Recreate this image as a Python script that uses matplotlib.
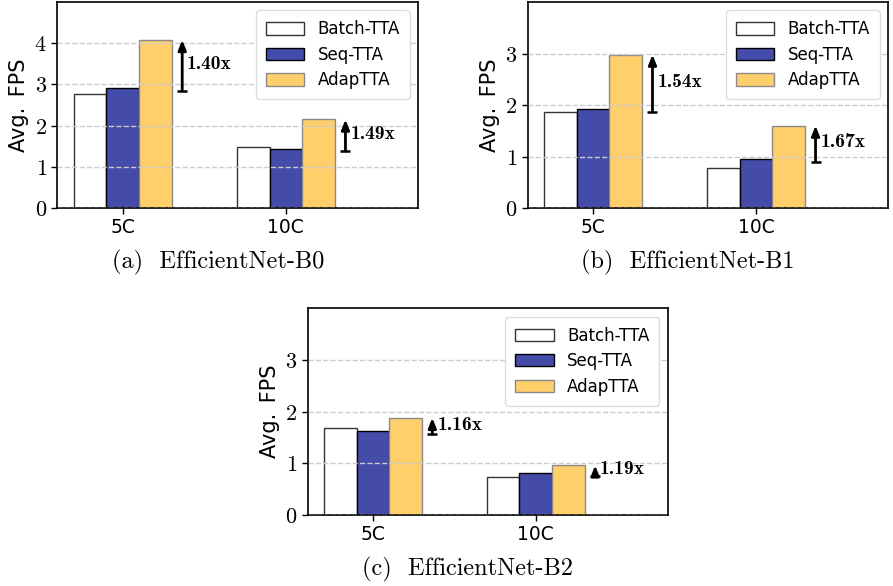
import matplotlib
matplotlib.use("Agg")
import matplotlib.pyplot as plt
import numpy as np

# -----------------------------
# DATA
# -----------------------------

groups = ["5C", "10C"]
methods = ["Batch-TTA", "Seq-TTA", "AdapTTA"]
subtitles = ["(a)  EfficientNet-B0", "(b)  EfficientNet-B1", "(c)  EfficientNet-B2"]

b0_fps = [[2.78, 1.47], [2.91, 1.44], [4.08, 2.15]]
b1_fps = [[1.86, 0.77], [1.93, 0.96], [2.98, 1.60]]
b2_fps = [[1.69, 0.73], [1.62, 0.81], [1.88, 0.96]]
all_fps = [b0_fps, b1_fps, b2_fps]

speedups = [["1.40x", "1.49x"], ["1.54x", "1.67x"], ["1.16x", "1.19x"]]
ylims = [5, 4, 4]

# -----------------------------
# STYLE
# -----------------------------

plt.rcParams["mathtext.fontset"] = "cm"
face_colors = ["white", "#444ba8", "#fecf6b"]
edge_colors = ["#333333", "black", "#8a8a8a"]
bar_w = 0.2

fig = plt.figure(figsize=(8.93, 5.86), dpi=100)
axes_pos = [
    [0.0642, 0.645, 0.404, 0.3515],
    [0.591, 0.645, 0.4035, 0.3515],
    [0.3446, 0.1212, 0.403, 0.3527],
]


def draw_panel(ax, fps, labels, ymax, subtitle):
    x = np.arange(len(groups))
    for i, m in enumerate(methods):
        ax.bar(x + (i - 1) * bar_w, fps[i], bar_w, color=face_colors[i],
               edgecolor=edge_colors[i], linewidth=1.0, label=m, zorder=2)
    # speedup arrows: from Seq-TTA up to AdapTTA
    for j in range(len(groups)):
        lo, hi = fps[1][j], fps[2][j]
        ax_x = x[j] + 1.5 * bar_w + 0.065
        ax.annotate("", xy=(ax_x, hi), xytext=(ax_x, lo - 0.06),
                    arrowprops=dict(arrowstyle="-|>,head_width=0.18,head_length=0.45",
                                    lw=2.0, color="black", mutation_scale=13,
                                    shrinkA=0, shrinkB=0),
                    zorder=4)
        ax.plot([ax_x], [lo - 0.06], marker="_", color="black", markersize=7,
                mew=1.8, zorder=4)
        ax.text(ax_x + 0.03, (lo + hi) / 2, labels[j], fontfamily="cmb10",
                fontsize=14, va="center", ha="left")
    ax.set_xlim(-0.4, 1.81)
    ax.set_ylim(0, ymax)
    ax.set_xticks(x)
    ax.set_xticklabels(groups, fontsize=13.5)
    yt = list(range(0, ymax))
    ax.set_yticks(yt)
    ax.set_yticklabels([f"${v}$" for v in yt], fontsize=16)
    ax.set_ylabel("Avg.\u2002FPS", fontsize=15)
    ax.grid(axis="y", linestyle="--", color="#cccccc", linewidth=1.0, zorder=3)
    ax.set_axisbelow(False)
    for s in ax.spines.values():
        s.set_linewidth(1.2)
    ax.tick_params(width=1.0, length=4)
    ax.legend(loc="upper right", fontsize=12, handlelength=2.3,
              handleheight=0.75, handletextpad=0.8, labelspacing=0.45,
              borderpad=0.6, edgecolor="#dddddd", framealpha=1.0)
    ax.text(0.445, -0.265, subtitle, transform=ax.transAxes, ha="center",
            va="center", fontfamily="cmr10", fontsize=17.5)


for k in range(3):
    ax = fig.add_axes(axes_pos[k])
    draw_panel(ax, all_fps[k], speedups[k], ylims[k], subtitles[k])

plt.savefig("out.png", dpi=100)
plt.close()
